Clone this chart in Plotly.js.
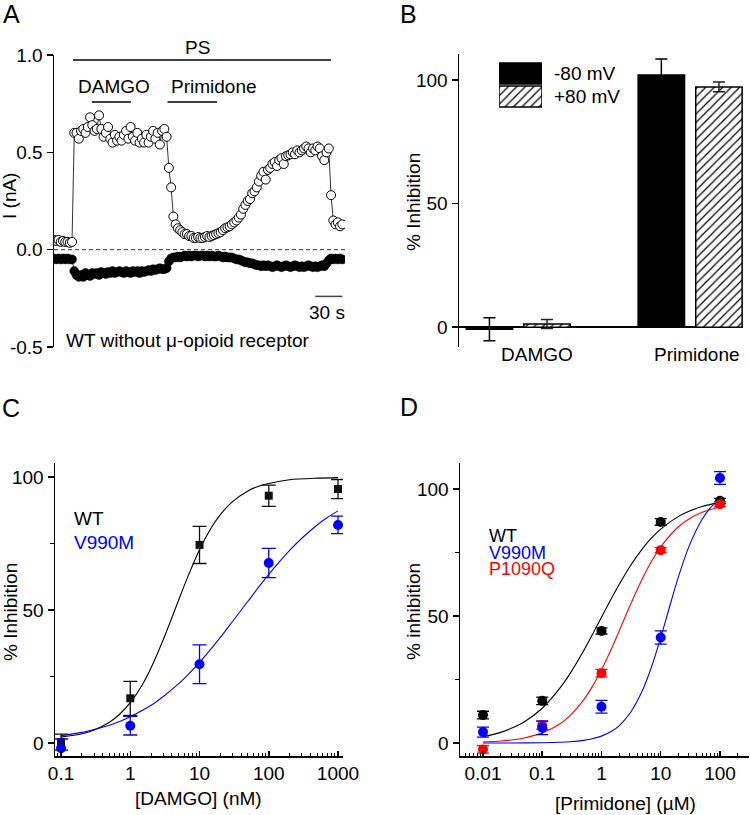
<!DOCTYPE html>
<html><head><meta charset="utf-8">
<script src="https://cdn.plot.ly/plotly-3.0.1.min.js"></script>
<style>html,body{margin:0;padding:0;background:#fff;} #chart{width:750px;height:815px;}</style>
</head><body><div id="chart"></div>
<script>
// ---------- Panel A : current trace (nA), sampled every sampleInterval s ----------
const sampleInterval = 2.5;
const currentPlus80 = [
 0.05,0.045,0.05,0.04,0.045,0.04,0.04,0.035,0.04,0.60,
 0.60,0.57,0.61,0.62,0.60,0.63,0.68,0.64,0.61,0.62,
 0.69,0.62,0.58,0.60,0.63,0.57,0.55,0.59,0.56,0.58,
 0.56,0.59,0.61,0.57,0.63,0.58,0.56,0.60,0.55,0.57,
 0.55,0.59,0.55,0.58,0.61,0.57,0.60,0.54,0.61,0.62,
 0.58,0.42,0.32,0.17,0.13,0.11,0.10,0.09,0.08,0.08,
 0.07,0.07,0.06,0.06,0.065,0.06,0.06,0.065,0.07,0.065,
 0.07,0.075,0.08,0.085,0.09,0.10,0.11,0.115,0.12,0.13,
 0.14,0.15,0.165,0.18,0.21,0.23,0.25,0.26,0.29,0.30,
 0.32,0.35,0.38,0.40,0.36,0.41,0.42,0.44,0.45,0.43,
 0.46,0.47,0.44,0.48,0.485,0.49,0.50,0.49,0.51,0.50,
 0.51,0.52,0.53,0.52,0.50,0.52,0.51,0.53,0.52,0.48,
 0.46,0.50,0.52,0.28,0.15,0.13,0.14,0.12,0.13];
const currentMinus80 = [
 -0.045,-0.05,-0.045,-0.05,-0.045,-0.05,-0.045,-0.05,-0.05,-0.11,
 -0.13,-0.14,-0.13,-0.14,-0.12,-0.13,-0.135,-0.12,-0.125,-0.12,
 -0.13,-0.115,-0.12,-0.125,-0.115,-0.12,-0.11,-0.12,-0.115,-0.11,
 -0.115,-0.12,-0.11,-0.115,-0.12,-0.11,-0.115,-0.11,-0.12,-0.11,
 -0.115,-0.11,-0.105,-0.11,-0.10,-0.105,-0.10,-0.095,-0.10,-0.10,
 -0.095,-0.06,-0.045,-0.04,-0.04,-0.035,-0.04,-0.035,-0.03,-0.035,
 -0.03,-0.035,-0.03,-0.03,-0.035,-0.03,-0.03,-0.035,-0.03,-0.035,
 -0.03,-0.035,-0.035,-0.03,-0.035,-0.04,-0.035,-0.04,-0.04,-0.04,
 -0.045,-0.05,-0.05,-0.055,-0.06,-0.065,-0.065,-0.07,-0.07,-0.075,
 -0.08,-0.08,-0.085,-0.08,-0.085,-0.08,-0.085,-0.09,-0.085,-0.08,
 -0.085,-0.09,-0.085,-0.08,-0.085,-0.09,-0.085,-0.08,-0.085,-0.09,
 -0.085,-0.09,-0.085,-0.08,-0.085,-0.09,-0.085,-0.09,-0.085,-0.08,
 -0.085,-0.07,-0.055,-0.045,-0.05,-0.045,-0.05,-0.045,-0.05];
const aTickVals = [-0.5, 0, 0.5, 1.0];
const aTickText = ['-0.5','0.0','0.5','1.0'];
// application periods (s)
const psPeriod = [21, 307.5];
const damgoPeriod = [42, 85.5];
const primPeriod = [126, 181];
const scaleBarSec = 30;

// ---------- Panel B ----------
const conditionsB = ['DAMGO', 'Primidone'];
const inhMinus80 = [-0.85, 102.0];
const errMinus80 = [4.65, 6.5];
const inhPlus80 = [1.3, 97.2];
const errPlus80 = [1.8, 2.0];
const legendB = ['-80 mV', '+80 mV'];

// ---------- Panel C ----------
const damgoConc = [0.1, 1, 10, 100, 1000];
const damgoTickText = ['0.1','1','10','100','1000'];
const cWT = [0.3, 16.8, 74.5, 93, 95.5];
const cWTErr = [3, 6.4, 7, 4, 3.6];
const cV990M = [-2, 6.5, 29.6, 67.7, 82];
const cV990MErr = [3.5, 3.5, 7.3, 5.5, 3.3];
const cFitWTx = [0.1,0.2,0.3,0.5,0.7,1,1.5,2,3,4,5,7,10,15,20,30,50,70,100,200,500,1000];
const cFitWTy = [2.2,3.5,4.9,7.8,10.8,15.2,22.0,28.3,38.9,47.2,53.8,63.4,72.7,81.2,85.9,90.8,94.8,96.5,97.6,99.0,99.6,99.8];
const cFitVx = [0.1,0.2,0.3,0.5,0.7,1,2,3,5,7,10,20,30,50,70,100,200,300,500,700,1000];
const cFitVy = [2.7,4.0,5.1,6.7,8.1,9.9,14.2,17.5,22.3,26.0,30.3,39.7,45.7,53.3,58.3,63.4,72.4,77.0,82.0,84.8,87.3];

// ---------- Panel D ----------
const primConc = [0.01, 0.1, 1, 10, 100];
const primTickText = ['0.01','0.1','1','10','100'];
const dWT = [11, 16.6, 44.1, 87, 95.3];
const dWTErr = [1.5, 1.5, 1.2, 1.3, 1];
const dV990M = [4.3, 6, 14.3, 41.5, 104.3];
const dV990MErr = [2, 2.7, 2.5, 2.6, 2.5];
const dP1090Q = [-2.5, 7, 27.5, 75.9, 94];
const dP1090QErr = [1.5, 1.5, 1.5, 1, 1];
const dFitX = [0.01,0.02,0.03,0.05,0.1,0.2,0.3,0.5,0.7,1,1.5,2,3,5,7,10,20,30,50,100];
const dFitWTy = [2.5,4.2,5.8,8.4,13.7,21.7,27.6,36.3,42.6,49.5,57.3,62.5,69.4,76.7,80.7,84.2,89.2,91.2,93.1,94.7];
const dFitPy = [0.4,0.8,1.2,2.0,4.0,7.6,11.0,17.0,22.2,28.8,37.5,44.2,53.8,65.1,71.5,77.2,85.2,88.2,90.8,92.9];
const dFitVx = [0.01,0.03,0.1,0.2,0.3,0.5,0.7,1,1.5,2,3,5,7,10,15,20,30,50,70,100];
const dFitVy = [0,0.02,0.11,0.3,0.52,1.05,1.67,2.72,4.71,6.88,11.6,21.1,30.0,41.5,55.8,65.6,77.4,88.1,92.7,96.0];

const seriesNames = ['WT', 'V990M', 'P1090Q'];
const seriesColors = ['#000000', '#0000ff', '#ff0000'];

// ---------- helpers ----------
const W = 750, H = 815;
const FONT = 'Liberation Sans, Arial, sans-serif';
function ann(text, px, py, o) {
  return Object.assign({text: text, x: px / W, y: 1 - py / H, xref: 'paper', yref: 'paper',
    showarrow: false, xanchor: 'center', yanchor: 'middle',
    font: {family: FONT, size: 19, color: 'black'}}, o || {});
}
function fitLine(x, y, color, xa, ya) {
  return {type: 'scatter', mode: 'lines', x: x, y: y, xaxis: xa, yaxis: ya,
    line: {color: color, width: 1.1, shape: 'spline', smoothing: 0.8}, hoverinfo: 'skip'};
}
function pts(x, y, err, color, symbol, size, xa, ya, capw) {
  return {type: 'scatter', mode: 'markers', x: x, y: y, xaxis: xa, yaxis: ya,
    marker: {color: color, symbol: symbol, size: size},
    error_y: {type: 'data', array: err, visible: true, color: color, thickness: 1.3, width: capw}};
}
const hatch = {shape: '/', fgcolor: 'black', bgcolor: 'white', size: 6, solidity: 0.2};

const traces = [
  // Panel A
  {type: 'scatter', mode: 'lines+markers', x0: 0, dx: sampleInterval, y: currentMinus80,
   xaxis: 'x', yaxis: 'y', line: {color: 'black', width: 0.8},
   marker: {color: 'black', size: 9, line: {color: 'black', width: 0.5}}},
  {type: 'scatter', mode: 'lines+markers', x0: 0, dx: sampleInterval, y: currentPlus80,
   xaxis: 'x', yaxis: 'y', line: {color: 'black', width: 0.8},
   marker: {color: 'white', size: 9, line: {color: 'black', width: 1}}},
  // Panel B
  {type: 'bar', x: [0, 1], y: inhMinus80, width: 0.27, offset: -0.30, xaxis: 'x2', yaxis: 'y2',
   marker: {color: 'black', line: {color: 'black', width: 1.5}},
   error_y: {type: 'data', array: errMinus80, visible: true, color: 'black', thickness: 1.5, width: 6}},
  {type: 'bar', x: [0, 1], y: inhPlus80, width: 0.27, offset: 0.035, xaxis: 'x2', yaxis: 'y2',
   marker: {color: 'white', line: {color: 'black', width: 1.5}, pattern: hatch},
   error_y: {type: 'data', array: errPlus80, visible: true, color: '#222', thickness: 1.5, width: 6}},
  // Panel B legend swatches
  {type: 'bar', orientation: 'h', x: [1], y: [0], base: 0, width: 0.91, xaxis: 'x5', yaxis: 'y5',
   marker: {color: 'black', line: {color: 'black', width: 1.5}}, hoverinfo: 'skip'},
  {type: 'bar', orientation: 'h', x: [1], y: [1], base: 0, width: 0.91, xaxis: 'x5', yaxis: 'y5',
   marker: {color: 'white', line: {color: 'black', width: 1.5}, pattern: hatch}, hoverinfo: 'skip'},
  // Panel C
  fitLine(cFitWTx, cFitWTy, seriesColors[0], 'x3', 'y3'),
  fitLine(cFitVx, cFitVy, seriesColors[1], 'x3', 'y3'),
  pts(damgoConc, cWT, cWTErr, '#111', 'square', 8, 'x3', 'y3', 7),
  pts(damgoConc, cV990M, cV990MErr, seriesColors[1], 'circle', 10, 'x3', 'y3', 7),
  // Panel D
  fitLine(dFitX, dFitWTy, seriesColors[0], 'x4', 'y4'),
  fitLine(dFitX, dFitPy, seriesColors[2], 'x4', 'y4'),
  fitLine(dFitVx, dFitVy, seriesColors[1], 'x4', 'y4'),
  pts(primConc, dWT, dWTErr, '#000', 'circle', 10, 'x4', 'y4', 6),
  pts(primConc, dP1090Q, dP1090QErr, seriesColors[2], 'circle', 10, 'x4', 'y4', 6),
  pts(primConc, dV990M, dV990MErr, seriesColors[1], 'circle', 10, 'x4', 'y4', 6)
];

const yAxisBase = {showline: true, linecolor: 'black', linewidth: 1.5, ticks: 'outside', ticklen: 6,
  tickwidth: 1.5, tickcolor: 'black', showgrid: false, zeroline: false,
  tickfont: {family: FONT, size: 19, color: 'black'}};
const logXBase = {type: 'log', showline: true, linecolor: 'black', linewidth: 1.5, ticks: 'inside',
  ticklen: 5, tickwidth: 1.5, tickcolor: 'black', showgrid: false, zeroline: false,
  tickmode: 'array', tickfont: {family: FONT, size: 19, color: 'black'},
  minor: {ticks: 'inside', ticklen: 3, tickwidth: 1, tickcolor: 'black', dtick: 'D1', showgrid: false}};

const layout = {
  width: W, height: H, margin: {l: 0, r: 0, t: 0, b: 0},
  paper_bgcolor: 'white', plot_bgcolor: 'rgba(0,0,0,0)', showlegend: false,
  font: {family: FONT, size: 19, color: 'black'},
  barmode: 'overlay',
  // A
  xaxis: {domain: [54 / W, 345 / W], range: [0, 323], visible: false, anchor: 'y'},
  yaxis: Object.assign({}, yAxisBase, {domain: [1 - 347 / H, 1 - 55 / H], range: [-0.5, 1.0],
    tickmode: 'array', tickvals: aTickVals, ticktext: aTickText, anchor: 'x'}),
  // B
  xaxis2: {domain: [459 / W, 743 / W], range: [-0.342, 1.31], showline: false, zeroline: false,
    showgrid: false, ticks: '', showticklabels: false, anchor: 'y2'},
  yaxis2: Object.assign({}, yAxisBase, {domain: [1 - 347 / H, 1 - 54 / H], range: [-8, 110.5],
    tickmode: 'array', tickvals: [0, 50, 100], anchor: 'x2',
    zeroline: true, zerolinecolor: 'black', zerolinewidth: 1.5}),
  // C
  xaxis3: Object.assign({}, logXBase, {domain: [55 / W, 343 / W], range: [-1.087, 3.072],
    tickvals: damgoConc, ticktext: damgoTickText, anchor: 'y3'}),
  yaxis3: Object.assign({}, yAxisBase, {domain: [1 - 756 / H, 1 - 463 / H], range: [-4.9, 105.3],
    tickmode: 'array', tickvals: [0, 50, 100], anchor: 'x3',
    minor: {ticks: 'outside', ticklen: 4, tickwidth: 1.2, tickcolor: 'black', tickmode: 'array', tickvals: [25, 75]}}),
  // D
  xaxis4: Object.assign({}, logXBase, {domain: [460 / W, 749 / W], range: [-2.388, 2.49],
    tickvals: primConc, ticktext: primTickText, anchor: 'y4'}),
  yaxis4: Object.assign({}, yAxisBase, {domain: [1 - 756 / H, 1 - 463 / H], range: [-5.1, 110.2],
    tickmode: 'array', tickvals: [0, 50, 100], anchor: 'x4',
    minor: {ticks: 'outside', ticklen: 4, tickwidth: 1.2, tickcolor: 'black', tickmode: 'array', tickvals: [25, 75]}}),
  // legend swatch axes for B
  xaxis5: {domain: [499 / W, 542 / W], range: [0, 1], visible: false, anchor: 'y5'},
  yaxis5: {domain: [1 - 108 / H, 1 - 62 / H], range: [1.5, -0.5], visible: false, anchor: 'x5'},
  shapes: [
    {type: 'line', xref: 'x domain', yref: 'y', x0: 0, x1: 1, y0: 0, y1: 0,
     line: {color: '#333', width: 1, dash: '4px,3px'}},
    {type: 'line', xref: 'x', yref: 'y', x0: psPeriod[0], x1: psPeriod[1], y0: 0.974, y1: 0.974,
     line: {color: 'black', width: 1.5}},
    {type: 'line', xref: 'x', yref: 'y', x0: damgoPeriod[0], x1: damgoPeriod[1], y0: 0.758, y1: 0.758,
     line: {color: 'black', width: 1.5}},
    {type: 'line', xref: 'x', yref: 'y', x0: primPeriod[0], x1: primPeriod[1], y0: 0.758, y1: 0.758,
     line: {color: 'black', width: 1.5}},
    {type: 'line', xref: 'x', yref: 'y', x0: 320 - scaleBarSec, x1: 320, y0: -0.24, y1: -0.24,
     line: {color: '#444', width: 1.5}}
  ],
  annotations: [
    ann('A', 11, 14, {font: {family: FONT, size: 25, color: 'black'}}),
    ann('B', 408, 14, {font: {family: FONT, size: 25, color: 'black'}}),
    ann('C', 11, 408, {font: {family: FONT, size: 25, color: 'black'}}),
    ann('D', 409, 407, {font: {family: FONT, size: 25, color: 'black'}}),
    // A
    ann('I (nA)', 10, 196, {textangle: -90}),
    ann('PS', 197, 48),
    ann('DAMGO', 114, 86),
    ann('Primidone', 214, 86),
    ann('30 s', 327, 312),
    ann('WT without \u03bc-opioid receptor', 64, 340, {xanchor: 'left'}),
    // B
    ann('% Inhibition', 413, 202, {textangle: -90}),
    ann(legendB[0], 552, 73, {xanchor: 'left'}),
    ann(legendB[1], 552, 97, {xanchor: 'left'}),
    ann(conditionsB[0], 537, 355),
    ann(conditionsB[1], 697, 355),
    // C
    ann('% Inhibition', 10, 612, {textangle: -90}),
    ann(seriesNames[0], 72, 518, {xanchor: 'left', font: {family: FONT, size: 19, color: seriesColors[0]}}),
    ann(seriesNames[1], 72, 542, {xanchor: 'left', font: {family: FONT, size: 19, color: seriesColors[1]}}),
    ann('[DAMGO] (nM)', 198, 798),
    // D
    ann('% inhibition', 413, 612, {textangle: -90}),
    ann(seriesNames[0], 487, 536, {xanchor: 'left', font: {family: FONT, size: 18, color: seriesColors[0]}}),
    ann(seriesNames[1], 487, 552.5, {xanchor: 'left', font: {family: FONT, size: 18, color: seriesColors[1]}}),
    ann(seriesNames[2], 487, 569, {xanchor: 'left', font: {family: FONT, size: 18, color: seriesColors[2]}}),
    ann('[Primidone] (\u00b5M)', 625, 803)
  ]
};

Plotly.newPlot('chart', traces, layout, {displayModeBar: false, staticPlot: true});
</script></body></html>
